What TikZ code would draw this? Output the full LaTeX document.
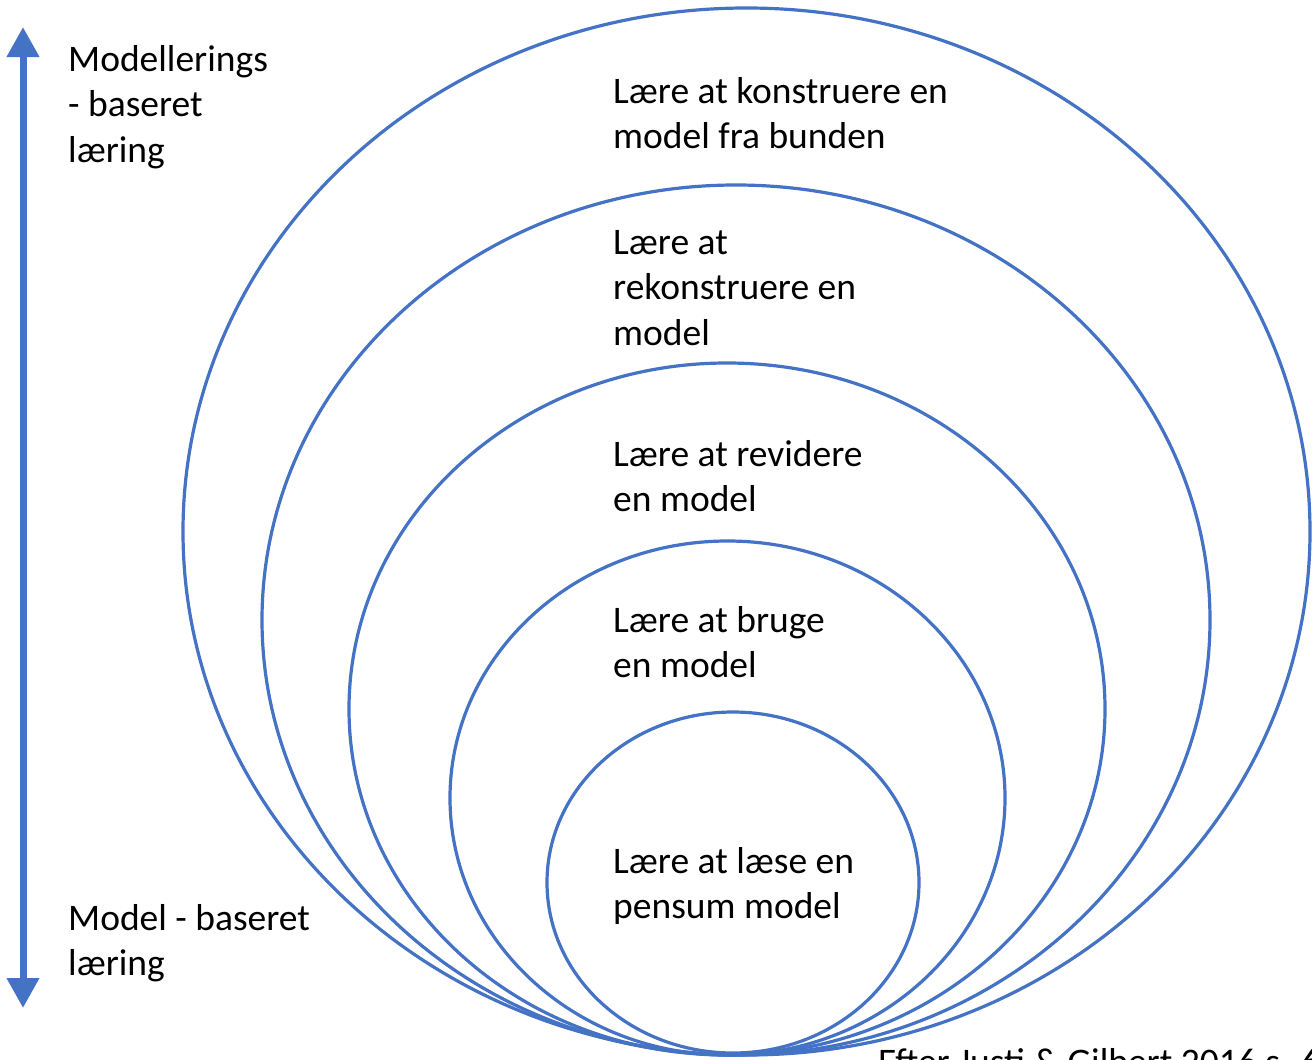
\documentclass[tikz,border=0pt]{standalone}
\usepackage{fontspec}
\setmainfont{Carlito}
\usetikzlibrary{arrows.meta}
\definecolor{obl}{RGB}{68,114,196}
\begin{document}
\begin{tikzpicture}[x=1pt,y=-1pt,
  ring/.style={draw=obl,line width=3.2pt},
  lbl/.style={anchor=base west,align=left,inner sep=0pt,font=\fontsize{37.5}{45.5}\selectfont},
  scale arrow/.style={draw=obl,line width=7pt,{Triangle[width=31pt,length=30pt]}-{Triangle[width=31pt,length=30pt]}}]
\useasboundingbox (0,0) rectangle (1312,1060);
\clip (0,0) rectangle (1312,1060);
\fill[white] (0,0) rectangle (1312,1060);
% nested ellipses
\draw[ring] (746.5,531.5) ellipse [x radius=563.5,y radius=523.5];
\draw[ring] (736,620) ellipse [x radius=474,y radius=435];
\draw[ring] (727,709) ellipse [x radius=378,y radius=346];
\draw[ring] (727.5,798) ellipse [x radius=277.5,y radius=257];
\draw[ring] (733,882.5) ellipse [x radius=186,y radius=170.5];
% labels (anchor = baseline of last line)
\node[lbl] (l1) at (613,148.5) {Lære at konstruere en\\model fra bunden};
\node[lbl] (l2) at (613,345) {Lære at\\rekonstruere en\\model};
\node[lbl] (l3) at (613,511.5) {Lære at revidere\\en model};
\node[lbl] (l4) at (613,677.5) {Lære at bruge\\en model};
\node[lbl] (l5) at (613,918.5) {Lære at læse en\\pensum model};
\node[lbl] (top) at (68,162) {Modellerings\\- baseret\\læring};
\node[lbl] (bot) at (68,975.5) {Model - baseret\\læring};
\node[lbl] (src) at (878,1074) {Efter Justi \& Gilbert 2016 s. 6};
% arrow
\coordinate (atop) at (23,27);
\coordinate (abot) at (23,1008);
\draw[scale arrow] (abot) -- (atop);
\end{tikzpicture}
\end{document}
